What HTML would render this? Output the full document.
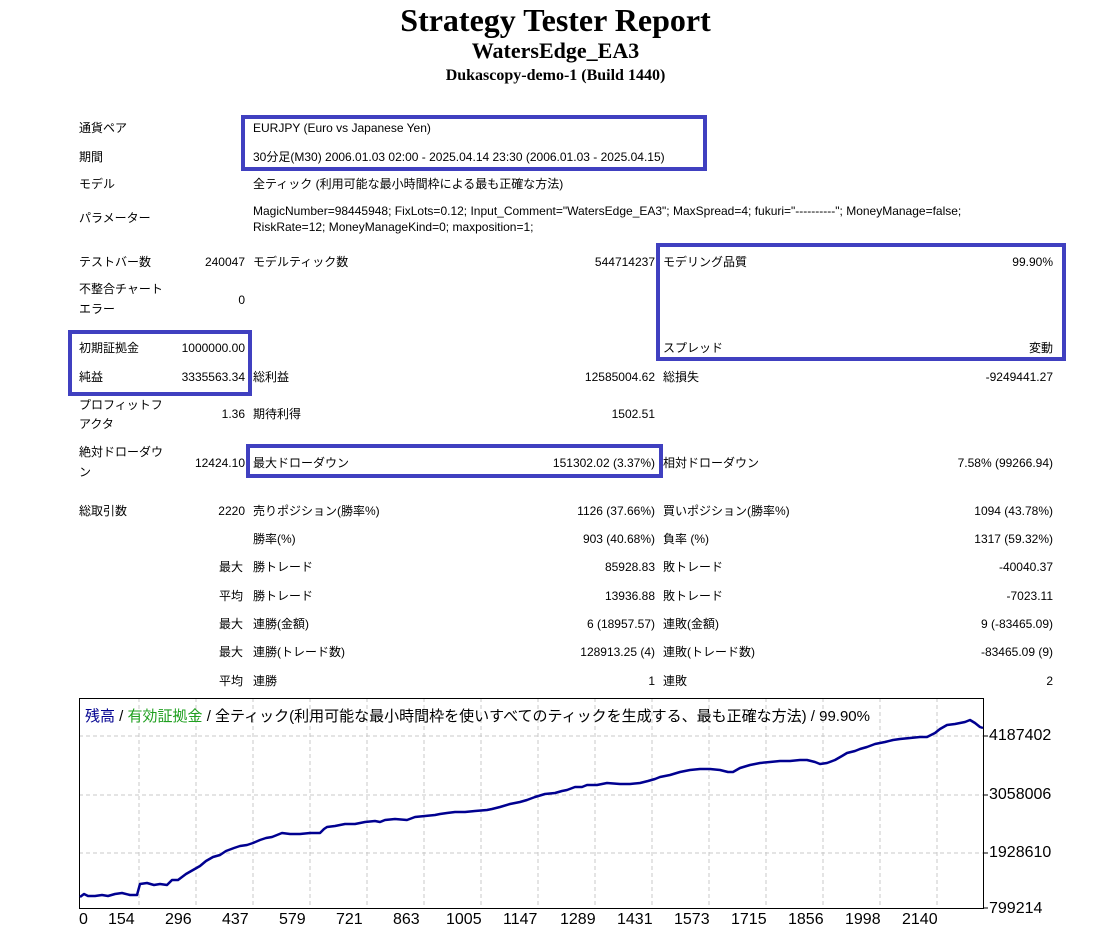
<!DOCTYPE html>
<html><head><meta charset="utf-8"><style>
body{margin:0;width:1111px;height:938px;background:#fff;position:relative;overflow:hidden;font-family:"Liberation Sans","Noto Sans CJK JP",sans-serif;font-size:12px;color:#000}
.t{position:absolute;white-space:nowrap;line-height:14px}
.r{position:absolute;white-space:nowrap;line-height:14px;text-align:right}
.h{position:absolute;left:0;width:1111px;text-align:center;font-family:"Liberation Serif",serif;font-weight:bold;white-space:nowrap}
.box{position:absolute;border:4px solid #4040c0;box-sizing:border-box}
</style></head><body>
<div class="h" style="top:2px;font-size:32px;line-height:36px">Strategy Tester Report</div>
<div class="h" style="top:37px;font-size:22px;line-height:28px">WatersEdge_EA3</div>
<div class="h" style="top:67px;font-size:16px;line-height:18px">Dukascopy-demo-1 (Build 1440)</div>

<div class="box" style="left:241px;top:115px;width:466px;height:56px"></div>
<div class="box" style="left:656px;top:243px;width:410px;height:118px"></div>
<div class="box" style="left:68px;top:330px;width:184px;height:66px"></div>
<div class="box" style="left:246px;top:444px;width:417px;height:34px"></div>

<div class="t" style="left:79px;top:121px">通貨ペア</div>
<div class="t" style="left:253px;top:121px">EURJPY (Euro vs Japanese Yen)</div>
<div class="t" style="left:79px;top:150px">期間</div>
<div class="t" style="left:253px;top:150px">30分足(M30) 2006.01.03 02:00 - 2025.04.14 23:30 (2006.01.03 - 2025.04.15)</div>
<div class="t" style="left:79px;top:177px">モデル</div>
<div class="t" style="left:253px;top:177px">全ティック (利用可能な最小時間枠による最も正確な方法)</div>
<div class="t" style="left:79px;top:211px">パラメーター</div>
<div class="t" style="left:253px;top:204px">MagicNumber=98445948; FixLots=0.12; Input_Comment="WatersEdge_EA3"; MaxSpread=4; fukuri="----------"; MoneyManage=false;</div>
<div class="t" style="left:253px;top:220px">RiskRate=12; MoneyManageKind=0; maxposition=1;</div>

<div class="t" style="left:79px;top:255px">テストバー数</div>
<div class="r" style="right:866px;top:255px">240047</div>
<div class="t" style="left:253px;top:255px">モデルティック数</div>
<div class="r" style="right:456px;top:255px">544714237</div>
<div class="t" style="left:663px;top:255px">モデリング品質</div>
<div class="r" style="right:58px;top:255px">99.90%</div>

<div class="t" style="left:79px;top:282px">不整合チャート</div>
<div class="t" style="left:79px;top:302px">エラー</div>
<div class="r" style="right:866px;top:293px">0</div>

<div class="t" style="left:79px;top:341px">初期証拠金</div>
<div class="r" style="right:866px;top:341px">1000000.00</div>
<div class="t" style="left:663px;top:341px">スプレッド</div>
<div class="r" style="right:58px;top:341px">変動</div>

<div class="t" style="left:79px;top:370px">純益</div>
<div class="r" style="right:866px;top:370px">3335563.34</div>
<div class="t" style="left:253px;top:370px">総利益</div>
<div class="r" style="right:456px;top:370px">12585004.62</div>
<div class="t" style="left:663px;top:370px">総損失</div>
<div class="r" style="right:58px;top:370px">-9249441.27</div>

<div class="t" style="left:79px;top:398px">プロフィットフ</div>
<div class="t" style="left:79px;top:417px">アクタ</div>
<div class="r" style="right:866px;top:407px">1.36</div>
<div class="t" style="left:253px;top:407px">期待利得</div>
<div class="r" style="right:456px;top:407px">1502.51</div>

<div class="t" style="left:79px;top:445px">絶対ドローダウ</div>
<div class="t" style="left:79px;top:465px">ン</div>
<div class="r" style="right:866px;top:456px">12424.10</div>
<div class="t" style="left:253px;top:456px">最大ドローダウン</div>
<div class="r" style="right:456px;top:456px">151302.02 (3.37%)</div>
<div class="t" style="left:663px;top:456px">相対ドローダウン</div>
<div class="r" style="right:58px;top:456px">7.58% (99266.94)</div>

<div class="t" style="left:79px;top:504px">総取引数</div>
<div class="r" style="right:866px;top:504px">2220</div>
<div class="t" style="left:253px;top:504px">売りポジション(勝率%)</div>
<div class="r" style="right:456px;top:504px">1126 (37.66%)</div>
<div class="t" style="left:663px;top:504px">買いポジション(勝率%)</div>
<div class="r" style="right:58px;top:504px">1094 (43.78%)</div>

<div class="t" style="left:253px;top:532px">勝率(%)</div>
<div class="r" style="right:456px;top:532px">903 (40.68%)</div>
<div class="t" style="left:663px;top:532px">負率 (%)</div>
<div class="r" style="right:58px;top:532px">1317 (59.32%)</div>

<div class="t" style="left:219px;top:560px">最大</div>
<div class="t" style="left:253px;top:560px">勝トレード</div>
<div class="r" style="right:456px;top:560px">85928.83</div>
<div class="t" style="left:663px;top:560px">敗トレード</div>
<div class="r" style="right:58px;top:560px">-40040.37</div>

<div class="t" style="left:219px;top:589px">平均</div>
<div class="t" style="left:253px;top:589px">勝トレード</div>
<div class="r" style="right:456px;top:589px">13936.88</div>
<div class="t" style="left:663px;top:589px">敗トレード</div>
<div class="r" style="right:58px;top:589px">-7023.11</div>

<div class="t" style="left:219px;top:617px">最大</div>
<div class="t" style="left:253px;top:617px">連勝(金額)</div>
<div class="r" style="right:456px;top:617px">6 (18957.57)</div>
<div class="t" style="left:663px;top:617px">連敗(金額)</div>
<div class="r" style="right:58px;top:617px">9 (-83465.09)</div>

<div class="t" style="left:219px;top:645px">最大</div>
<div class="t" style="left:253px;top:645px">連勝(トレード数)</div>
<div class="r" style="right:456px;top:645px">128913.25 (4)</div>
<div class="t" style="left:663px;top:645px">連敗(トレード数)</div>
<div class="r" style="right:58px;top:645px">-83465.09 (9)</div>

<div class="t" style="left:219px;top:674px">平均</div>
<div class="t" style="left:253px;top:674px">連勝</div>
<div class="r" style="right:456px;top:674px">1</div>
<div class="t" style="left:663px;top:674px">連敗</div>
<div class="r" style="right:58px;top:674px">2</div>

<svg style="position:absolute;left:0;top:0" width="1111" height="938">
<g stroke="#c8c8c8" stroke-dasharray="4,3" stroke-width="1">
<line x1="79" y1="736" x2="983" y2="736"/><line x1="79" y1="795" x2="983" y2="795"/><line x1="79" y1="853" x2="983" y2="853"/>
<line x1="139" y1="698" x2="139" y2="908"/><line x1="196" y1="698" x2="196" y2="908"/><line x1="253" y1="698" x2="253" y2="908"/><line x1="310" y1="698" x2="310" y2="908"/><line x1="367" y1="698" x2="367" y2="908"/><line x1="424" y1="698" x2="424" y2="908"/><line x1="481" y1="698" x2="481" y2="908"/><line x1="538" y1="698" x2="538" y2="908"/><line x1="595" y1="698" x2="595" y2="908"/><line x1="652" y1="698" x2="652" y2="908"/><line x1="709" y1="698" x2="709" y2="908"/><line x1="766" y1="698" x2="766" y2="908"/><line x1="823" y1="698" x2="823" y2="908"/><line x1="880" y1="698" x2="880" y2="908"/><line x1="937" y1="698" x2="937" y2="908"/>
</g>
<rect x="79.5" y="698.5" width="904" height="210" fill="none" stroke="#000" stroke-width="1"/>
<g stroke="#000"><line x1="983" y1="736" x2="988" y2="736"/><line x1="983" y1="795" x2="988" y2="795"/><line x1="983" y1="853" x2="988" y2="853"/><line x1="983" y1="908" x2="988" y2="908"/></g>
<polyline fill="none" stroke="#000090" stroke-width="2.5" stroke-linejoin="round" points="80,897 84,894 88,896 95,896 102,895 108,896 115,894 122,893 130,895 137,895 140,884 147,883 154,885 160,884 167,885 172,880 178,880 186,874 193,870 200,866 206,861 213,857 220,855 226,851 234,848 240,846 247,845 253,843 260,840 266,838 272,837 277,835 282,833 290,834 300,834 310,833 320,833 324,829 327,827 335,826 345,824 355,824 365,822 375,821 380,822 385,820 395,819 407,820 415,817 425,816 435,815 440,814 447,813 455,812 465,812 475,811 487,810 492,809 500,807 510,804 520,802 527,800 535,797 545,794 555,793 562,791 567,790 575,787 582,787 587,785 597,785 607,783 620,784 630,784 640,783 648,781 655,779 660,777 670,775 680,772 690,770 700,769 710,769 720,770 728,772 733,772 740,768 750,765 760,763 770,762 780,761 790,761 800,760 807,760 815,762 820,764 827,763 835,760 842,756 847,753 855,751 860,749 867,747 875,744 885,742 893,740 900,739 910,738 920,737 927,737 935,733 940,729 947,725 955,724 965,722 970,720 975,723 980,727 983,728"/>
</svg>
<div class="t" style="left:85px;top:708px;font-size:15px;line-height:18px"><span style="color:#000090">残高</span> / <span style="color:#20a020">有効証拠金</span> / 全ティック(利用可能な最小時間枠を使いすべてのティックを生成する、最も正確な方法) / 99.90%</div>
<div class="t" style="left:989px;top:727px;font-size:16px;line-height:18px">4187402</div>
<div class="t" style="left:989px;top:786px;font-size:16px;line-height:18px">3058006</div>
<div class="t" style="left:989px;top:844px;font-size:16px;line-height:18px">1928610</div>
<div class="t" style="left:989px;top:900px;font-size:16px;line-height:18px">799214</div>
<div style="position:absolute;top:913px;left:0;font-size:16px;line-height:18px">
<span class="t" style="left:79px">0</span>
<span class="t" style="left:108px">154</span><span class="t" style="left:165px">296</span><span class="t" style="left:222px">437</span><span class="t" style="left:279px">579</span><span class="t" style="left:336px">721</span><span class="t" style="left:393px">863</span><span class="t" style="left:446px">1005</span><span class="t" style="left:503px">1147</span><span class="t" style="left:560px">1289</span><span class="t" style="left:617px">1431</span><span class="t" style="left:674px">1573</span><span class="t" style="left:731px">1715</span><span class="t" style="left:788px">1856</span><span class="t" style="left:845px">1998</span><span class="t" style="left:902px">2140</span>
</div>
</body></html>
